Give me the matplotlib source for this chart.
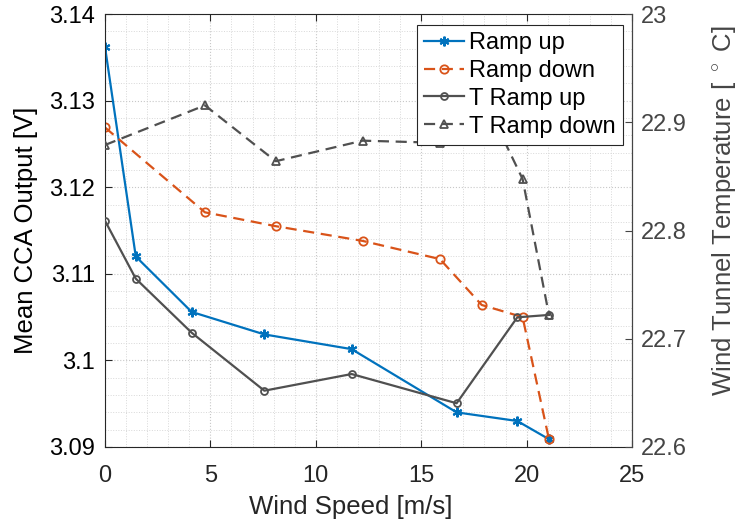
import matplotlib.pyplot as plt
from matplotlib.ticker import MultipleLocator

plt.rcParams['font.family'] = ['Liberation Sans', 'DejaVu Sans']
plt.rcParams['mathtext.fontset'] = 'custom'
plt.rcParams['mathtext.rm'] = 'Liberation Sans'

# data
wind_up = [0, 1.46, 4.11, 7.56, 11.70, 16.68, 19.56, 21.06]
cca_up = [3.1362, 3.1120, 3.1056, 3.1030, 3.1013, 3.0940, 3.0930, 3.0909]
temp_up = [22.809, 22.7555, 22.7056, 22.652, 22.6674, 22.6404, 22.7198, 22.722]

wind_down = [0, 4.74, 8.10, 12.22, 15.89, 17.87, 19.81, 21.06]
cca_down = [3.1269, 3.1171, 3.1155, 3.1138, 3.1117, 3.1064, 3.1050, 3.0909]
temp_down = [22.879, 22.9156, 22.864, 22.883, 22.881, 22.926, 22.8476, 22.722]

blue = '#0072BD'
orange = '#D95319'
gray = '#505050'

fig = plt.figure(figsize=(7.41, 5.25), dpi=100)
ax = fig.add_axes([0.1417, 0.1486, 0.7112, 0.8247])

l1, = ax.plot(wind_up, cca_up, '-', marker=(6, 2, 0), color=blue, lw=1.6,
              ms=7, mew=1.5, label='Ramp up')
l2, = ax.plot(wind_down, cca_down, '--o', color=orange, lw=1.6, ms=6,
              mfc='none', mew=1.3, label='Ramp down', dashes=(5, 3))

ax.set_xlim(0, 25)
ax.set_ylim(3.09, 3.14)
ax.xaxis.set_major_locator(MultipleLocator(5))
ax.xaxis.set_minor_locator(MultipleLocator(1))
ax.yaxis.set_minor_locator(MultipleLocator(0.002))
ax.set_yticks([3.09, 3.10, 3.11, 3.12, 3.13, 3.14])
ax.set_yticklabels(['3.09', '3.1', '3.11', '3.12', '3.13', '3.14'])
ax.grid(which='major', color='#c8c8c8', ls=':', lw=0.8)
ax.grid(which='minor', color='#d8d8d8', ls=':', lw=0.7)
ax.tick_params(which='both', direction='in', top=True, labelsize=17,
               colors='#262626', length=5)
ax.tick_params(which='minor', length=0)
ax.tick_params(axis='x', pad=13)
ax.tick_params(axis='y', labelcolor='black', pad=7)
ax.set_xlabel('Wind Speed [m/s]', fontsize=18.5, color='#262626')
ax.xaxis.set_label_coords(0.467, -0.11)
ax.set_ylabel('Mean CCA Output [V]', fontsize=18.5, color='black')
ax.yaxis.set_label_coords(-0.128, 0.5)
for s in ax.spines.values():
    s.set_color('#262626')
    s.set_linewidth(0.8)

ax2 = ax.twinx()
l3, = ax2.plot(wind_up, temp_up, '-o', color=gray, lw=1.6, ms=5,
               mfc='none', mew=1.3, label='T Ramp up')
l4, = ax2.plot(wind_down, temp_down, '--^', color=gray, lw=1.6, ms=6,
               mfc='none', mew=1.3, label='T Ramp down', dashes=(5, 3))
ax2.set_ylim(22.6, 23.0)
ax2.set_yticks([22.6, 22.7, 22.8, 22.9, 23.0])
ax2.set_yticklabels(['22.6', '22.7', '22.8', '22.9', '23'])
ax2.tick_params(direction='in', labelsize=17, colors='#454545', length=5, pad=6.5)
ax2.set_ylabel('Wind Tunnel Temperature [ $^\\circ$ C]', fontsize=18.5,
               color='#454545')
ax2.yaxis.set_label_coords(1.148, 0.545)
ax2.spines['right'].set_color('#454545')
for k in ['left', 'top', 'bottom']:
    ax2.spines[k].set_visible(False)

leg = ax2.legend(handles=[l1, l2, l3, l4], loc='upper right', fontsize=17,
                 bbox_to_anchor=(0.982, 0.975), handlelength=1.7,
                 handletextpad=0.2, labelspacing=0.25, borderpad=0.3,
                 borderaxespad=0.0, fancybox=False, framealpha=1)
leg.get_frame().set_edgecolor('#262626')
leg.get_frame().set_linewidth(0.8)

fig.savefig('out.png', dpi=100)
